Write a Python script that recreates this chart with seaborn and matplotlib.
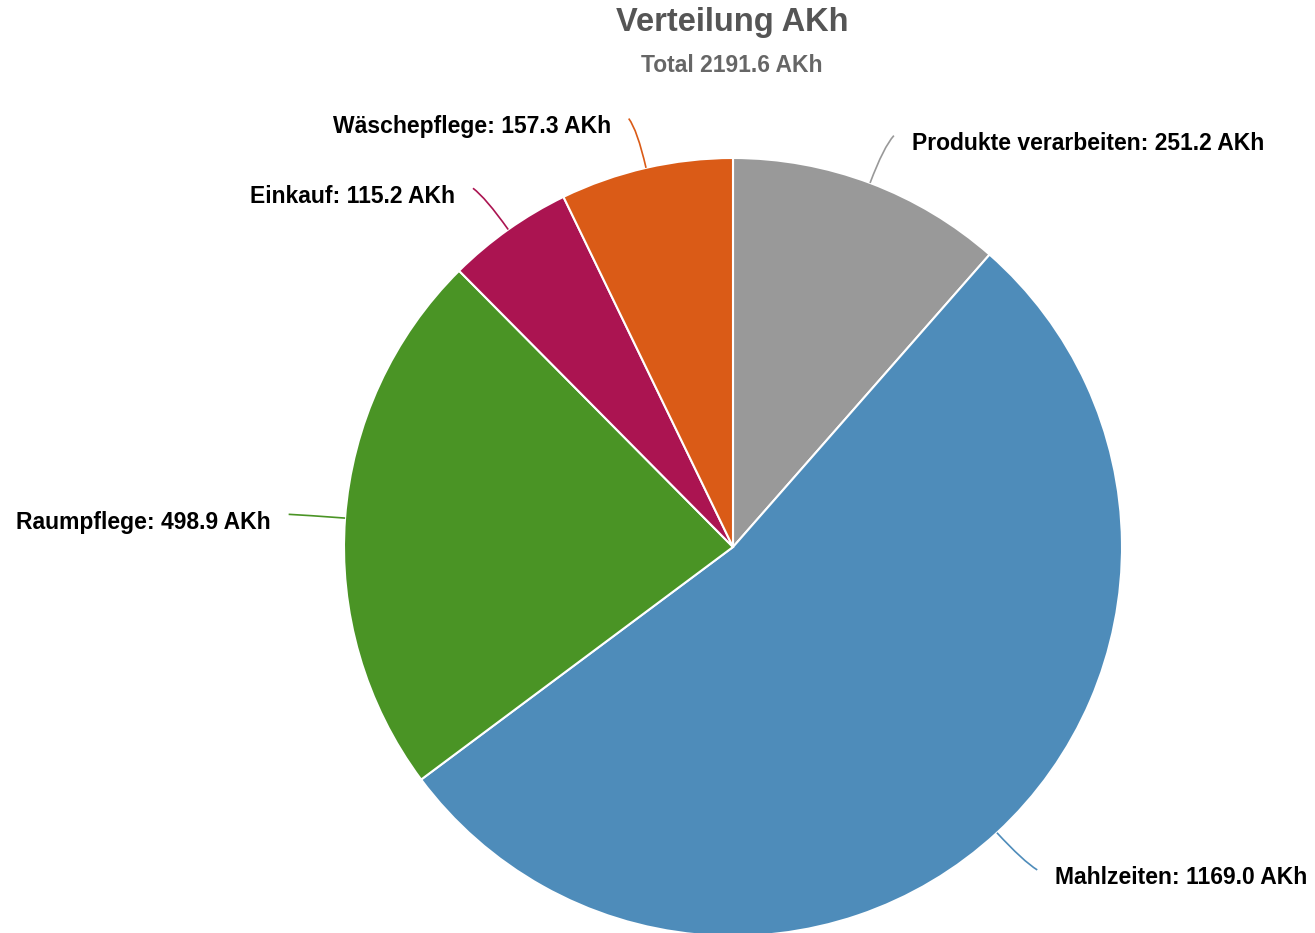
import numpy as np
import matplotlib
matplotlib.use("Agg")
import matplotlib.pyplot as plt
import seaborn as sns
from matplotlib.path import Path
from matplotlib.patches import PathPatch

# ------------------------------------------------------------------------
# Data
# ------------------------------------------------------------------------
categories = ["Produkte verarbeiten", "Mahlzeiten", "Raumpflege", "Einkauf", "Wäschepflege"]
values = [251.2, 1169.0, 498.9, 115.2, 157.3]
colors = ["#999999", "#4e8cba", "#4a9425", "#ab1451", "#da5b17"]
unit = "AKh"

total = sum(values)

# ------------------------------------------------------------------------
# Figure (axes in pixel units)
# ------------------------------------------------------------------------
sns.set_theme(style="white")
plt.rcParams["font.family"] = ["Liberation Sans", "DejaVu Sans"]

W, H = 1315, 933
fig = plt.figure(figsize=(W / 100, H / 100), dpi=100)
ax = fig.add_axes([0, 0, 1, 1])

cx, cy = 733, H - 547
R = 389

wedges, _ = ax.pie(
    values,
    colors=colors,
    startangle=90,
    counterclock=False,
    center=(cx, cy),
    radius=R,
    wedgeprops=dict(edgecolor="white", linewidth=1.5),
    frame=True,
)
ax.set_xlim(0, W)
ax.set_ylim(0, H)
ax.set_aspect("equal")
ax.axis("off")

# ------------------------------------------------------------------------
# Leader lines + labels
# ------------------------------------------------------------------------
cum = np.cumsum([0] + values[:-1])
for val, start, name, col in zip(values, cum, categories, colors):
    frac = (start + val / 2) / total
    ang = np.deg2rad(90 - frac * 360)
    d = np.array([np.cos(ang), np.sin(ang)])
    sign = 1 if d[0] >= 0 else -1
    c = np.array([cx, cy])
    p0 = c + R * d
    p1 = c + 1.10 * R * d
    p2 = c + 1.13 * R * d + np.array([sign * 6, 0])
    path = Path([p0, p1, p2], [Path.MOVETO, Path.CURVE3, Path.CURVE3])
    ax.add_patch(PathPatch(path, fill=False, edgecolor=col, linewidth=1.2))
    ax.text(p2[0] + sign * 18, p2[1] - 8, f"{name}: {val:.1f} {unit}",
            ha="left" if sign > 0 else "right", va="center",
            fontsize=16.5, fontweight="bold", color="black")

# ------------------------------------------------------------------------
# Titles
# ------------------------------------------------------------------------
fig.text(732 / W, 1 - 22 / H, "Verteilung AKh", ha="center", va="center",
         fontsize=23.5, fontweight="bold", color="#555555")
fig.text(732 / W, 1 - 66 / H, f"Total {total:.1f} {unit}", ha="center", va="center",
         fontsize=16.5, fontweight="bold", color="#666666")

fig.savefig("out.png", dpi=100, facecolor="white")
